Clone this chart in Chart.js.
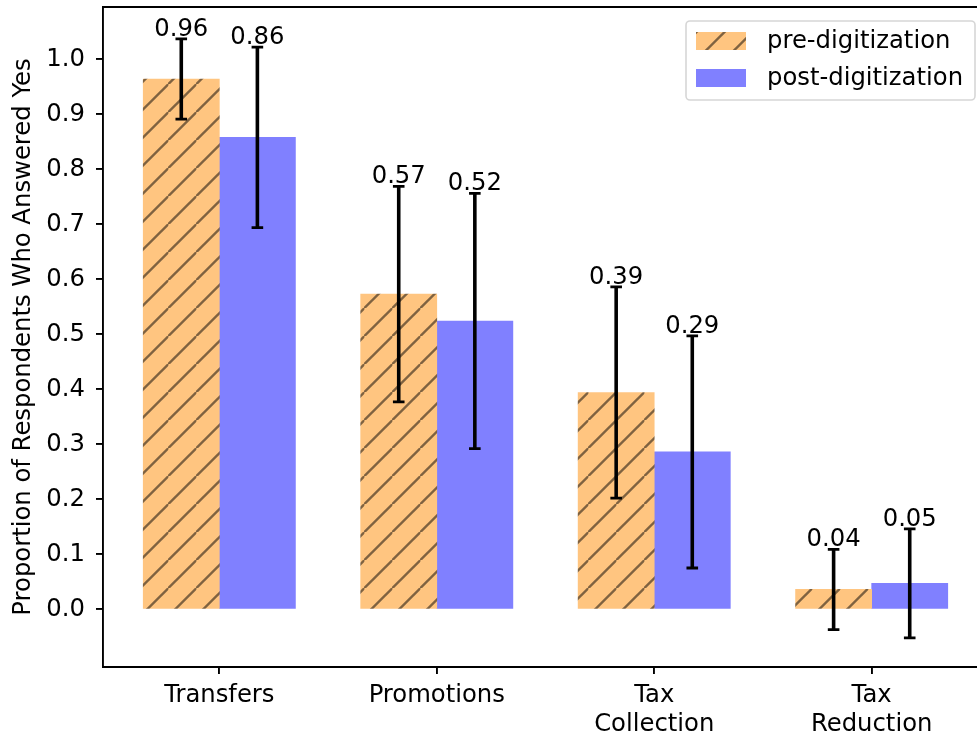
<!DOCTYPE html>
<html>
<head>
<meta charset="utf-8">
<script src="https://cdn.jsdelivr.net/npm/chart.js@4.4.0/dist/chart.umd.min.js"></script>
<style>
  body { margin: 0; background: #fff; overflow: hidden; }
  #wrap { width: 977px; height: 738px; overflow: hidden; }
</style>
</head>
<body>
<div id="wrap"><canvas id="chart" width="1000" height="738"></canvas></div>
<script>
// data
var categories = ['Transfers', 'Promotions', ['Tax', 'Collection'], ['Tax', 'Reduction']];
var preValues = [0.964, 0.573, 0.394, 0.036];
var postValues = [0.858, 0.524, 0.286, 0.047];
var preErr = [0.073, 0.196, 0.192, 0.073];
var postErr = [0.164, 0.232, 0.211, 0.099];
var yTicks = [0.0, 0.1, 0.2, 0.3, 0.4, 0.5, 0.6, 0.7, 0.8, 0.9, 1.0];

var barWidth = 0.35;
var fontSize = 24.3;

Chart.defaults.font.family = "'DejaVu Sans', sans-serif";
Chart.defaults.font.size = fontSize;
Chart.defaults.color = '#000';

// hatch "/" like matplotlib
function makeHatch() {
  var s = 28.5;
  var c = document.createElement('canvas');
  c.width = s; c.height = s;
  var g = c.getContext('2d');
  g.fillStyle = '#ffc580';
  g.fillRect(0, 0, s, s);
  g.strokeStyle = 'rgba(0,0,0,0.5)';
  g.lineWidth = 2.3;
  for (var k = -1; k <= 1; k++) {
    g.beginPath();
    g.moveTo(k * s, s);
    g.lineTo(k * s + s, 0);
    g.stroke();
  }
  return g.createPattern(c, 'repeat');
}

var hatch = makeHatch();

function noPad(s) {
  s.paddingTop = 0; s.paddingBottom = 0;
  s.paddingLeft = 0; s.paddingRight = 0;
}

var errorBars = {
  id: 'errorBars',
  afterDatasetsDraw: function (chart) {
    var ctx = chart.ctx;
    var y = chart.scales.y;
    chart.data.datasets.forEach(function (ds, d) {
      var meta = chart.getDatasetMeta(d);
      meta.data.forEach(function (bar, i) {
        var v = ds.data[i].y;
        var e = ds.errors[i];
        var top = y.getPixelForValue(v + e);
        var bot = y.getPixelForValue(v - e);
        ctx.save();
        ctx.strokeStyle = '#000';
        ctx.lineWidth = 3.6;
        ctx.beginPath();
        ctx.moveTo(bar.x, top);
        ctx.lineTo(bar.x, bot);
        ctx.stroke();
        ctx.lineWidth = 2.8;
        ctx.beginPath();
        ctx.moveTo(bar.x - 5.8, top);
        ctx.lineTo(bar.x + 5.8, top);
        ctx.moveTo(bar.x - 5.8, bot);
        ctx.lineTo(bar.x + 5.8, bot);
        ctx.stroke();
        ctx.fillStyle = '#000';
        ctx.font = fontSize + "px 'DejaVu Sans'";
        ctx.textAlign = 'center';
        ctx.textBaseline = 'alphabetic';
        ctx.fillText(v.toFixed(2), bar.x, top - 3);
        ctx.restore();
      });
    });
    // top / right spines
    var a = chart.chartArea;
    ctx.save();
    ctx.strokeStyle = '#000';
    ctx.lineWidth = 1.9;
    ctx.beginPath();
    ctx.moveTo(a.left, a.top);
    ctx.lineTo(a.right, a.top);
    ctx.lineTo(a.right, a.bottom);
    ctx.stroke();
    ctx.restore();
  }
};

var boxLegend = {
  id: 'boxLegend',
  afterDraw: function (chart) {
    var ctx = chart.ctx;
    var a = chart.chartArea;
    var w = 289, h = 79;
    var x = a.right - 13 - w, y = a.top + 14;
    ctx.save();
    ctx.beginPath();
    ctx.roundRect(x, y, w, h, 4);
    ctx.fillStyle = 'rgba(255,255,255,0.8)';
    ctx.fill();
    ctx.strokeStyle = 'rgba(204,204,204,0.8)';
    ctx.lineWidth = 1.6;
    ctx.stroke();
    ctx.font = fontSize + "px 'DejaVu Sans'";
    ctx.textBaseline = 'middle';
    ctx.textAlign = 'left';
    chart.data.datasets.forEach(function (ds, i) {
      var cy = y + 20 + i * 37;
      ctx.fillStyle = ds.backgroundColor;
      ctx.fillRect(x + 10, cy - 9, 50, 18);
      ctx.fillStyle = '#000';
      ctx.fillText(ds.label, x + 81, cy + 1);
    });
    ctx.restore();
  }
};

new Chart(document.getElementById('chart'), {
  type: 'bar',
  data: {
    datasets: [
      {
        label: 'pre-digitization',
        data: preValues.map(function (v, i) { return { x: i - barWidth / 2, y: v }; }),
        errors: preErr,
        backgroundColor: hatch
      },
      {
        label: 'post-digitization',
        data: postValues.map(function (v, i) { return { x: i + barWidth / 2, y: v }; }),
        errors: postErr,
        backgroundColor: '#8080ff'
      }
    ]
  },
  options: {
    responsive: false,
    animation: false,
    devicePixelRatio: 1,
    grouped: false,
    categoryPercentage: 1,
    barPercentage: 1,
    layout: { padding: { top: 7, right: 12, left: 0, bottom: 0 } },
    plugins: {
      legend: { display: false },
      tooltip: { enabled: false }
    },
    scales: {
      x: {
        type: 'linear',
        offset: false,
        min: -0.535,
        max: 3.535,
        afterBuildTicks: function (s) {
          s.ticks = categories.map(function (c, i) { return { value: i }; });
        },
        afterFit: function (s) { s.height = 71; noPad(s); },
        ticks: {
          autoSkip: false,
          maxRotation: 0,
          padding: 7,
          callback: function (v) { return categories[v]; }
        },
        grid: { offset: false, drawOnChartArea: false, drawTicks: true, tickLength: 7, color: '#000', lineWidth: 1.9 },
        border: { display: true, color: '#000', width: 1.9 }
      },
      y: {
        type: 'linear',
        min: -0.105,
        max: 1.095,
        afterBuildTicks: function (s) {
          s.ticks = yTicks.map(function (v) { return { value: v }; });
        },
        afterFit: function (s) { s.width = 103; noPad(s); },
        ticks: {
          padding: 11,
          callback: function (v) { return v.toFixed(1); }
        },
        grid: { drawOnChartArea: false, drawTicks: true, tickLength: 7, color: '#000', lineWidth: 1.9 },
        border: { display: true, color: '#000', width: 1.9 },
        title: {
          display: true,
          text: 'Proportion of Respondents Who Answered Yes',
          padding: { top: 9, bottom: 0 },
          font: { size: fontSize }
        }
      }
    }
  },
  plugins: [errorBars, boxLegend]
});
</script>
</body>
</html>
